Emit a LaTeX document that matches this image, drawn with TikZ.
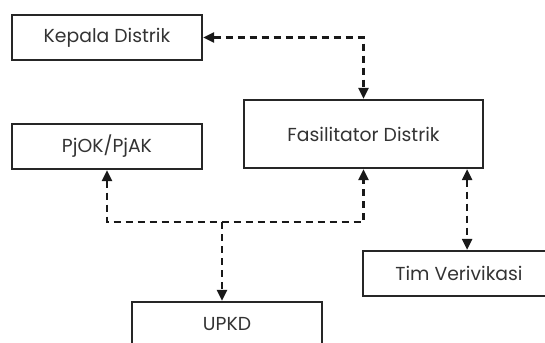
\documentclass[tikz,border=0pt]{standalone}
\usepackage{fontspec}
\setmainfont{Poppins}
\usetikzlibrary{arrows.meta,calc}
\tikzset{
  unit/.style={draw=black!85, line width=2.2pt, minimum width=190pt, minimum height=45pt,
    inner sep=0pt, font=\fontsize{18.8}{21}\selectfont, text=black!80},
  link/.style={draw=black!90, line width=2.2pt, dash pattern=on 7pt off 5pt,
    {Triangle[length=11pt,width=10pt]}-{Triangle[length=11pt,width=10pt]}},
  onelink/.style={draw=black!90, line width=2.2pt, dash pattern=on 7pt off 5pt,
    -{Triangle[length=11pt,width=10pt]}}
}
\begin{document}
\begin{tikzpicture}[x=1pt,y=-1pt]
\useasboundingbox (0,0) rectangle (545,342);
\node[unit] (kd) at (107,37.5) {Kepala Distrik};
\node[unit, minimum width=239pt, minimum height=68pt] (fd) at (363.5,134) {Fasilitator Distrik};
\node[unit] (pj) at (107,146.5) {PjOK/PjAK};
\node[unit] (up) at (227,324.5) {UPKD};
\node[unit, minimum width=192pt] (tv) at (459,273.5) {Tim Verivikasi};
% Kepala Distrik <-> Fasilitator Distrik
\draw[link] (kd.east) -| (fd.north);
% PjOK/PjAK, UPKD and Fasilitator Distrik on one bus line
\coordinate (j) at (222,222);
\draw[link] (pj.south) |- (j) -| (fd.south);
\draw[onelink] (j) -- (j |- up.north);
% Fasilitator Distrik <-> Tim Verivikasi
\coordinate (f2) at ($(fd.south east)+(-17,0)$);
\draw[link] (f2) -- (f2 |- tv.north);
\end{tikzpicture}
\end{document}
